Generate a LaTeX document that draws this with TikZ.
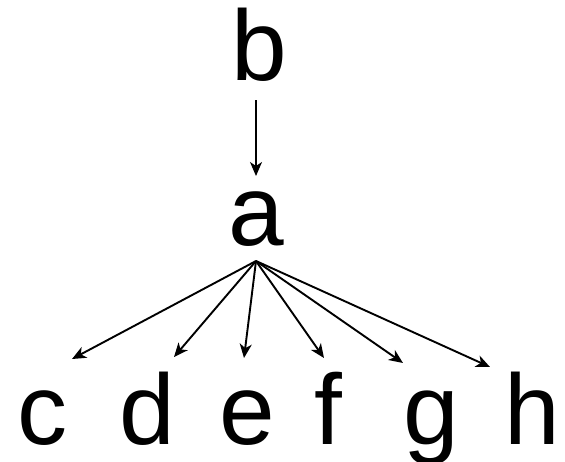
\documentclass[tikz,border=0pt]{standalone}
\usepackage{fontspec}
\setmainfont{Liberation Sans}
\usepackage{tikz}
\usetikzlibrary{arrows.meta}
\tikzset{
  letter/.style={inner sep=0pt, anchor=base, font=\fontsize{100}{100}\selectfont},
  edge/.style={draw=black, line width=1.9pt, -{Stealth[length=14pt,width=12pt,inset=4pt]}},
}

\begin{document}
\begin{tikzpicture}[x=1pt,y=-1pt]
  \useasboundingbox (0,0) rectangle (565,461);

  % letters
  \node[letter] (b) at (259,80) {b};
  \node[letter] (a) at (256,245) {a};
  \node[letter] (c) at (42,444) {c};
  \node[letter] (d) at (147,444) {d};
  \node[letter] (e) at (247,444) {e};
  \node[letter] (f) at (328,444) {f};
  \node[letter] (g) at (431,444) {g};
  \node[letter] (h) at (532,444) {h};

  % arrow ends
  \coordinate (bOut) at (256,100);
  \coordinate (aIn) at (256,176);
  \coordinate (aOut) at (256,261);
  \coordinate (cIn) at (72,359);
  \coordinate (dIn) at (174,357);
  \coordinate (eIn) at (244,358);
  \coordinate (fIn) at (324,358);
  \coordinate (gIn) at (403,363);
  \coordinate (hIn) at (490,367);

  \draw[edge, line width=1.4pt] (bOut) -- (aIn);
  \foreach \t in {cIn,dIn,eIn,fIn,gIn,hIn}
    \draw[edge] (aOut) -- (\t);
\end{tikzpicture}
\end{document}
